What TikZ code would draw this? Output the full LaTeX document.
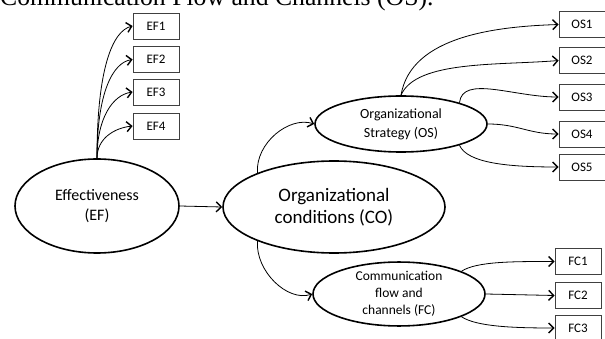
\documentclass[tikz,border=0pt]{standalone}
\usepackage{fontspec}
\setmainfont{Carlito}
\newfontfamily\titlefont{Liberation Serif}
\usetikzlibrary{shapes.geometric,arrows.meta}
\tikzset{
  latent/.style={draw, ellipse, line width=1.6pt, inner sep=0pt, align=center},
  ind/.style={draw=black!75, line width=0.8pt, minimum width=46pt, minimum height=26pt, inner sep=0pt, font=\fontsize{13}{15}\selectfont},
  conn/.style={line width=0.8pt, -{Straight Barb[length=5pt,width=10pt,line width=1.4pt]}},
}
\begin{document}
\begin{tikzpicture}[x=1pt,y=-1pt]
\useasboundingbox (0,0) rectangle (605,339);
\clip (0,0) rectangle (605,339);
\node[anchor=base west, inner sep=0pt, font=\titlefont\fontsize{25.7}{28}\selectfont] (title) at (0,6) {Communication Flow and Channels (OS).};

% latent variables
\node[latent, minimum width=164pt, minimum height=94pt, font=\fontsize{16}{20}\selectfont] (ef) at (97,206) {Effectiveness\\(EF)};
\node[latent, minimum width=222pt, minimum height=92pt, font=\fontsize{19}{22}\selectfont] (co) at (334,207) {Organizational\\conditions (CO)};
\node[latent, minimum width=172pt, minimum height=56pt, font=\fontsize{14}{19}\selectfont] (os) at (401,124) {Organizational\\Strategy (OS)};
\node[latent, minimum width=172pt, minimum height=54pt, font=\fontsize{13.5}{17}\selectfont] (fc) at (399,294) {Communication\\flow and\\channels (FC)};

% indicators
\node[ind] (ef1) at (156,26) {EF1};
\node[ind] (ef2) at (156,59.5) {EF2};
\node[ind] (ef3) at (156,92) {EF3};
\node[ind] (ef4) at (156,126) {EF4};

\node[ind] (os1) at (582,24.5) {OS1};
\node[ind] (os2) at (582,60.5) {OS2};
\node[ind] (os3) at (582,97) {OS3};
\node[ind] (os4) at (582,134) {OS4};
\node[ind] (os5) at (582,167) {OS5};

\node[ind] (fc1) at (578,261.5) {FC1};
\node[ind] (fc2) at (578,295.5) {FC2};
\node[ind] (fc3) at (578,328) {FC3};

% connectors
\draw[conn] (ef.north) .. controls +(0,-90) and +(-20,5) .. (ef1.west);
\draw[conn] (ef.north) .. controls +(0,-65) and +(-20,3) .. (ef2.west);
\draw[conn] (ef.north) .. controls +(0,-40) and +(-20,3) .. (ef3.west);
\draw[conn] (ef.north) .. controls +(0,-20) and +(-18,2) .. (ef4.west);

\draw[conn] (ef.east) -- (co.west);

\draw[conn] (co.156) .. controls +(-2,-30) and +(-25,-8) .. (os.west);
\draw[conn] (co.204) .. controls +(-2,30) and +(-25,8) .. (fc.west);

\draw[conn] (os.north) .. controls +(10,-60) and +(-60,2) .. (os1.west);
\draw[conn] (os.north) .. controls +(15,-35) and +(-60,5) .. (os2.west);
\draw[conn] (os.20) .. controls +(3,-28) and +(-45,0) .. (os3.west);
\draw[conn] (os.east) .. controls +(30,0) and +(-30,0) .. (os4.west);
\draw[conn] (os.-20) .. controls +(8,18) and +(-50,0) .. (os5.west);

\draw[conn] (fc.20) .. controls +(15,-10) and +(-40,0) .. (fc1.west);
\draw[conn] (fc.east) -- (fc2.west);
\draw[conn] (fc.-20) .. controls +(15,10) and +(-40,0) .. (fc3.west);
\end{tikzpicture}
\end{document}
